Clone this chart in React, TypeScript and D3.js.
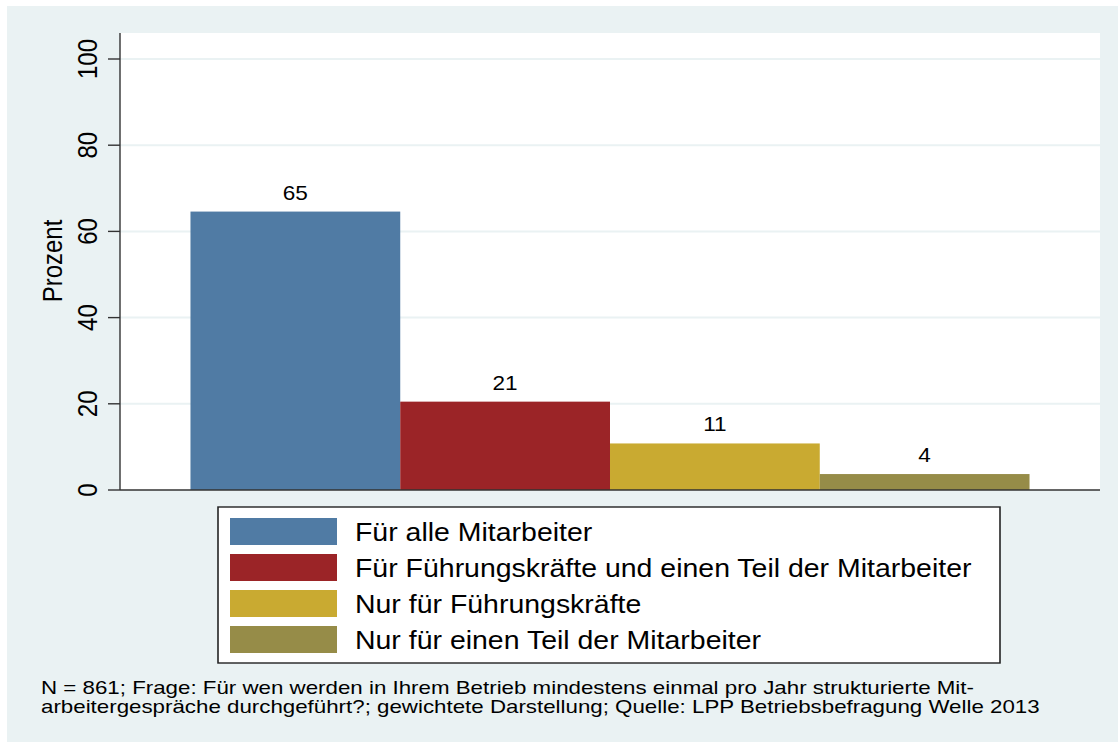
import * as d3 from "d3";

const categories = [
  "Für alle Mitarbeiter",
  "Für Führungskräfte und einen Teil der Mitarbeiter",
  "Nur für Führungskräfte",
  "Nur für einen Teil der Mitarbeiter",
];
const values = [64.6, 20.5, 10.8, 3.7];
const valueLabels = ["65", "21", "11", "4"];
const colors = ["#507ba4", "#9b2427", "#c9aa31", "#968c48"];
const yTicks = [0, 20, 40, 60, 80, 100];
const footnote = [
  "N = 861; Frage: Für wen werden in Ihrem Betrieb mindestens einmal pro Jahr strukturierte Mit-",
  "arbeitergespräche durchgeführt?; gewichtete Darstellung; Quelle: LPP Betriebsbefragung Welle 2013",
];

// the picture is stretched horizontally, so draw in a narrower space and scale it
const SX = 1.13;
const W = 1118;
const H = 742;
const px = (x: number) => x / SX;

const plotLeft = 120;
const plotRight = 1100;
const plotTop = 33;
const plotBottom = 490;

export default function App() {
  const y = d3.scaleLinear().domain([0, 100]).range([plotBottom, 59]);
  const x = d3
    .scaleBand()
    .domain(categories)
    .range([px(plotLeft), px(plotRight)])
    .paddingInner(0)
    .paddingOuter(0.336);

  const font = "'Liberation Sans', Arial, Helvetica, sans-serif";

  return (
    <div style={{ position: "absolute", left: 0, top: 0 }}>
      <svg
        width={W}
        height={H}
        viewBox={`0 0 ${W / SX} ${H}`}
        preserveAspectRatio="none"
        style={{ display: "block" }}
        fontFamily={font}
      >
        <rect x={0} y={0} width={W / SX} height={H} fill="#ffffff" />
        <rect x={px(7)} y={6} width={px(W - 7)} height={H - 6} fill="#eaf2f3" />
        <rect
          x={px(plotLeft)}
          y={plotTop}
          width={px(plotRight - plotLeft)}
          height={plotBottom - plotTop}
          fill="#ffffff"
        />

        {/* grid */}
        {yTicks
          .filter((t) => t > 0)
          .map((t) => (
            <line
              key={"g" + t}
              x1={px(plotLeft)}
              x2={px(plotRight)}
              y1={y(t)}
              y2={y(t)}
              stroke="#eaf2f3"
              strokeWidth={2}
            />
          ))}

        {/* bars */}
        {categories.map((c, i) => (
          <g key={c}>
            <rect
              x={x(c)!}
              y={y(values[i])}
              width={x.bandwidth()}
              height={y(0) - y(values[i])}
              fill={colors[i]}
            />
            <text
              x={x(c)! + x.bandwidth() / 2}
              y={y(values[i]) - 12}
              textAnchor="middle"
              fontSize={20}
              fill="#000"
            >
              {valueLabels[i]}
            </text>
          </g>
        ))}

        {/* axes */}
        <line
          x1={px(plotLeft)}
          x2={px(plotLeft)}
          y1={plotTop}
          y2={plotBottom}
          stroke="#333"
          strokeWidth={1.4}
          vectorEffect="non-scaling-stroke"
        />
        <line
          x1={px(plotLeft)}
          x2={px(plotRight)}
          y1={plotBottom}
          y2={plotBottom}
          stroke="#333"
          strokeWidth={1.4}
        />
        {yTicks.map((t) => (
          <g key={"t" + t}>
            <line
              x1={px(108)}
              x2={px(plotLeft)}
              y1={y(t)}
              y2={y(t)}
              stroke="#333"
              strokeWidth={1.4}
            />
            <text
              transform={`translate(${px(97)},${y(t)}) rotate(-90)`}
              textAnchor="middle"
              fontSize={24}
              fill="#000"
            >
              {t}
            </text>
          </g>
        ))}
        <text
          transform={`translate(${px(62)},${261}) rotate(-90)`}
          textAnchor="middle"
          fontSize={24}
          fill="#000"
        >
          Prozent
        </text>

        {/* legend */}
        <rect
          x={px(218)}
          y={507}
          width={px(1000 - 218)}
          height={663 - 507}
          fill="#ffffff"
          stroke="#222"
          strokeWidth={1.4}
        />
        {categories.map((c, i) => (
          <g key={"l" + c}>
            <rect x={px(230)} y={518 + i * 36} width={px(107)} height={27} fill={colors[i]} />
            <text x={px(355)} y={541.5 + i * 36} fontSize={25.2} fill="#000">
              {c}
            </text>
          </g>
        ))}

        {/* note */}
        {footnote.map((line, i) => (
          <text
            key={"f" + i}
            transform={`translate(${px(41)},${694 + i * 18.5}) scale(1.097,1)`}
            fontSize={18}
            fill="#000"
          >
            {line}
          </text>
        ))}
      </svg>
    </div>
  );
}
